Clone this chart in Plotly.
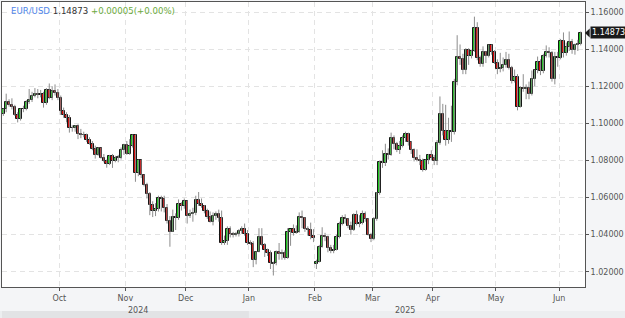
import pandas as pd
import plotly.graph_objects as go

# ---- data ----
dates = pd.bdate_range("2024-09-03", "2025-06-11")

opens = [
1.1050,1.1075,1.1115,1.1100,1.1090,1.1045,1.1025,1.1075,1.1080,1.1115,
1.1125,1.1150,1.1160,1.1155,1.1160,1.1110,1.1180,1.1135,1.1175,1.1165,
1.1135,1.1065,1.1045,1.1030,1.0975,1.0975,1.0985,1.0940,1.0935,1.0935,
1.0910,1.0890,1.0860,1.0830,1.0865,1.0815,1.0795,1.0780,1.0825,1.0795,
1.0815,1.0815,1.0855,1.0885,1.0835,1.0880,1.0935,1.0735,1.0800,1.0720,
1.0670,1.0620,1.0560,1.0530,1.0540,1.0600,1.0590,1.0545,1.0475,1.0415,
1.0495,1.0490,1.0565,1.0555,1.0580,1.0500,1.0510,1.0515,1.0585,1.0565,
1.0555,1.0530,1.0495,1.0470,1.0500,1.0510,1.0490,1.0355,1.0365,1.0430,
1.0405,1.0400,1.0405,1.0420,1.0430,1.0405,1.0355,1.0350,1.0265,1.0305,
1.0390,1.0345,1.0320,1.0300,1.0240,1.0250,1.0305,1.0295,1.0300,1.0275,
1.0415,1.0430,1.0410,1.0415,1.0495,1.0490,1.0430,1.0425,1.0395,1.0240,
1.0255,1.0335,1.0395,1.0385,1.0330,1.0310,1.0320,1.0390,1.0460,1.0490,
1.0485,1.0445,1.0425,1.0505,1.0460,1.0465,1.0510,1.0485,1.0400,1.0375,
1.0485,1.0625,1.0790,1.0785,1.0835,1.0830,1.0920,1.0890,1.0855,1.0880,
1.0920,1.0945,1.0900,1.0855,1.0815,1.0800,1.0795,1.0750,1.0800,1.0830,
1.0815,1.0795,1.0895,1.1050,1.0960,1.0910,1.0960,1.0955,1.1225,1.1355,
1.1345,1.1285,1.1395,1.1365,1.1390,1.1515,1.1350,1.1320,1.1385,1.1365,
1.1420,1.1385,1.1325,1.1295,1.1300,1.1315,1.1340,1.1300,1.1230,1.1250,
1.1090,1.1190,1.1185,1.1190,1.1160,1.1240,1.1285,1.1330,1.1280,1.1365,
1.1385,1.1380,1.1240,1.1360,1.1350,1.1445,1.1380,1.1410,1.1440,1.1395,
1.1420,1.1425]

highs = [
1.1080,1.1160,1.1130,1.1135,1.1100,1.1060,1.1080,1.1095,1.1125,1.1185,
1.1170,1.1190,1.1185,1.1180,1.1170,1.1190,1.1215,1.1200,1.1210,1.1185,
1.1150,1.1085,1.1060,1.1045,1.0990,1.0990,1.0995,1.0970,1.0955,1.0945,
1.0925,1.0905,1.0880,1.0870,1.0870,1.0835,1.0805,1.0830,1.0835,1.0825,
1.0830,1.0870,1.0890,1.0905,1.0915,1.0940,1.0940,1.0805,1.0805,1.0725,
1.0680,1.0630,1.0580,1.0570,1.0610,1.0610,1.0610,1.0565,1.0500,1.0535,
1.0515,1.0590,1.0575,1.0595,1.0585,1.0535,1.0545,1.0610,1.0630,1.0595,
1.0560,1.0540,1.0525,1.0520,1.0525,1.0535,1.0530,1.0395,1.0445,1.0445,
1.0415,1.0415,1.0430,1.0445,1.0460,1.0425,1.0370,1.0365,1.0310,1.0435,
1.0435,1.0355,1.0325,1.0315,1.0255,1.0315,1.0355,1.0320,1.0315,1.0435,
1.0430,1.0455,1.0450,1.0520,1.0530,1.0495,1.0445,1.0465,1.0430,1.0265,
1.0345,1.0440,1.0410,1.0395,1.0345,1.0345,1.0400,1.0470,1.0505,1.0510,
1.0490,1.0470,1.0515,1.0530,1.0505,1.0530,1.0525,1.0490,1.0410,1.0495,
1.0630,1.0800,1.0855,1.0890,1.0865,1.0950,1.0935,1.0900,1.0905,1.0935,
1.0955,1.0950,1.0905,1.0865,1.0860,1.0830,1.0810,1.0805,1.0835,1.0855,
1.0830,1.0910,1.1145,1.1105,1.1100,1.1030,1.1095,1.1240,1.1475,1.1425,
1.1375,1.1405,1.1405,1.1395,1.1575,1.1545,1.1365,1.1415,1.1390,1.1425,
1.1425,1.1395,1.1345,1.1380,1.1355,1.1385,1.1375,1.1310,1.1290,1.1265,
1.1200,1.1265,1.1210,1.1225,1.1285,1.1290,1.1360,1.1345,1.1375,1.1420,
1.1410,1.1390,1.1385,1.1385,1.1455,1.1490,1.1435,1.1495,1.1455,1.1430,
1.1450,1.1495]

lows = [
1.1040,1.1060,1.1090,1.1075,1.1040,1.1005,1.1015,1.1060,1.1070,1.1105,
1.1115,1.1140,1.1135,1.1140,1.1085,1.1100,1.1130,1.1125,1.1150,1.1125,
1.1045,1.1030,1.1005,1.0950,1.0955,1.0955,1.0915,1.0920,1.0925,1.0900,
1.0885,1.0855,1.0810,1.0825,1.0810,1.0790,1.0761,1.0775,1.0760,1.0790,
1.0790,1.0805,1.0830,1.0830,1.0830,1.0870,1.0685,1.0715,1.0705,1.0660,
1.0595,1.0505,1.0495,1.0500,1.0525,1.0525,1.0520,1.0460,1.0335,1.0415,
1.0425,1.0480,1.0530,1.0540,1.0460,1.0490,1.0470,1.0505,1.0555,1.0545,
1.0515,1.0485,1.0465,1.0450,1.0480,1.0470,1.0345,1.0345,1.0345,1.0385,
1.0385,1.0390,1.0390,1.0405,1.0395,1.0345,1.0345,1.0225,1.0240,1.0305,
1.0340,1.0280,1.0285,1.0215,1.0180,1.0235,1.0265,1.0265,1.0265,1.0270,
1.0340,1.0395,1.0405,1.0410,1.0435,1.0415,1.0395,1.0375,1.0360,1.0215,
1.0250,1.0330,1.0365,1.0305,1.0300,1.0300,1.0315,1.0380,1.0450,1.0460,
1.0435,1.0400,1.0420,1.0450,1.0440,1.0455,1.0470,1.0395,1.0360,1.0370,
1.0475,1.0615,1.0760,1.0770,1.0805,1.0825,1.0860,1.0845,1.0835,1.0870,
1.0900,1.0880,1.0835,1.0795,1.0795,1.0775,1.0740,1.0745,1.0780,1.0800,
1.0775,1.0775,1.0885,1.0935,1.0880,1.0890,1.0900,1.0940,1.1205,1.1315,
1.1265,1.1265,1.1315,1.1350,1.1385,1.1340,1.1305,1.1305,1.1325,1.1355,
1.1370,1.1320,1.1265,1.1275,1.1280,1.1300,1.1290,1.1215,1.1220,1.1070,
1.1085,1.1170,1.1130,1.1130,1.1150,1.1200,1.1270,1.1260,1.1270,1.1355,
1.1355,1.1225,1.1210,1.1305,1.1345,1.1355,1.1365,1.1390,1.1375,1.1370,
1.1390,1.1420]

closes = [
1.1075,1.1115,1.1100,1.1090,1.1045,1.1025,1.1075,1.1080,1.1115,1.1125,
1.1150,1.1160,1.1155,1.1160,1.1110,1.1180,1.1135,1.1175,1.1165,1.1135,
1.1065,1.1045,1.1030,1.0975,1.0975,1.0985,1.0940,1.0935,1.0935,1.0910,
1.0890,1.0860,1.0830,1.0865,1.0815,1.0795,1.0780,1.0825,1.0795,1.0815,
1.0815,1.0855,1.0885,1.0835,1.0880,1.0935,1.0735,1.0800,1.0720,1.0670,
1.0620,1.0560,1.0530,1.0540,1.0595,1.0590,1.0545,1.0475,1.0415,1.0495,
1.0490,1.0565,1.0555,1.0580,1.0500,1.0510,1.0515,1.0585,1.0565,1.0555,
1.0530,1.0495,1.0470,1.0500,1.0510,1.0490,1.0355,1.0365,1.0430,1.0405,
1.0400,1.0405,1.0420,1.0430,1.0405,1.0355,1.0350,1.0265,1.0305,1.0390,
1.0345,1.0320,1.0300,1.0245,1.0250,1.0305,1.0295,1.0300,1.0275,1.0415,
1.0430,1.0410,1.0415,1.0495,1.0490,1.0430,1.0425,1.0395,1.0380,1.0255,
1.0335,1.0395,1.0385,1.0330,1.0310,1.0320,1.0390,1.0460,1.0490,1.0485,
1.0445,1.0425,1.0505,1.0460,1.0465,1.0510,1.0485,1.0400,1.0375,1.0485,
1.0625,1.0790,1.0785,1.0835,1.0830,1.0920,1.0890,1.0855,1.0880,1.0920,
1.0945,1.0900,1.0855,1.0815,1.0800,1.0795,1.0750,1.0800,1.0830,1.0815,
1.0795,1.0895,1.1050,1.0960,1.0910,1.0960,1.0955,1.1225,1.1355,1.1345,
1.1285,1.1395,1.1365,1.1390,1.1515,1.1350,1.1320,1.1385,1.1365,1.1420,
1.1385,1.1325,1.1295,1.1300,1.1315,1.1340,1.1300,1.1230,1.1250,1.1090,
1.1190,1.1185,1.1190,1.1160,1.1240,1.1285,1.1330,1.1280,1.1365,1.1385,
1.1380,1.1240,1.1360,1.1350,1.1445,1.1380,1.1410,1.1440,1.1395,1.1420,
1.1425,1.14873]

symbol = "EUR/USD"
last_price = "1.14873"
change_text = "+0.00005(+0.00%)"
year_labels = ["2024", "2025"]

# ---- styling ----
FONT = "DejaVu Sans"
UP_FILL = "#1ec81e"
DOWN_FILL = "#d80000"
WICK = "#8c8c8c"
OUTLINE = "#151515"
AXIS = "#555555"
GRID = "#e3e3e3"
DAY_MS = 86400000

# each daily candle is centred at mid-day
xs = dates + pd.Timedelta(hours=12)

# wick segments built from the data
wick_x, wick_y = [], []
for x, h, l in zip(xs, highs, lows):
    wick_x += [x, x, None]
    wick_y += [l, h, None]

body_lo = [min(o, c) for o, c in zip(opens, closes)]
body_h = [max(abs(c - o), 0.00012) for o, c in zip(opens, closes)]
body_col = [UP_FILL if c >= o else DOWN_FILL for o, c in zip(opens, closes)]

fig = go.Figure()
fig.add_trace(go.Scatter(
    x=wick_x, y=wick_y, mode="lines",
    line=dict(color=WICK, width=1), hoverinfo="skip", showlegend=False,
))
fig.add_trace(go.Bar(
    x=xs, y=body_h, base=body_lo, width=0.86 * DAY_MS,
    marker=dict(color=body_col, line=dict(color=OUTLINE, width=1)),
    hoverinfo="skip", showlegend=False,
))

fig.update_layout(
    width=625, height=318,
    margin=dict(l=1, r=39, t=1, b=31),
    paper_bgcolor="#f4f5f7",
    plot_bgcolor="#ffffff",
    font=dict(family=FONT, size=8, color=AXIS),
    showlegend=False,
    hovermode=False,
    dragmode=False,
    bargap=0,
)

fig.update_xaxes(
    type="date",
    rangebreaks=[dict(bounds=["sat", "mon"])],
    range=["2024-09-03 01:00", "2025-06-13 00:00"],
    tickformat="%b", dtick="M1", tick0="2024-01-01",
    ticks="outside", ticklen=3, tickcolor=AXIS,
    tickfont=dict(family=FONT, size=8, color="#555555"),
    showgrid=True, gridcolor=GRID, griddash="5px,4px", gridwidth=1,
    showline=True, linecolor=AXIS, linewidth=1, mirror=True,
    zeroline=False, fixedrange=True,
)
fig.update_yaxes(
    side="right",
    range=[1.0118, 1.1654],
    dtick=0.02, tick0=1.0, tickformat=".5f",
    ticks="outside", ticklen=3, tickcolor=AXIS,
    tickfont=dict(family=FONT, size=8, color="#555555"),
    showgrid=True, gridcolor=GRID, griddash="5px,4px", gridwidth=1,
    showline=True, linecolor=AXIS, linewidth=1, mirror=True,
    zeroline=False, fixedrange=True,
)

# year band under the month labels
fig.add_shape(type="rect", xref="paper", yref="paper",
              x0=-0.01, x1=1.1, y0=-0.084, y1=-0.12,
              fillcolor="#eceef0", line_width=0, layer="above")
fig.add_shape(type="rect", xref="x", yref="paper",
              x0="2024-08-01", x1="2025-01-01", y0=-0.084, y1=-0.12,
              fillcolor="#e2e3e5", line_width=0, layer="above")
fig.add_annotation(text=year_labels[0], xref="paper", yref="paper",
                   x=0.212, y=-0.107, showarrow=False,
                   font=dict(family=FONT, size=8, color="#555555"))
fig.add_annotation(text=year_labels[1], xref="paper", yref="paper",
                   x=0.711, y=-0.107, showarrow=False,
                   font=dict(family=FONT, size=8, color="#555555"))

# header text
fig.add_annotation(
    text=(f"<span style='color:#4f86ea'>{symbol}</span> "
          f"<span style='color:#333333'>{last_price}</span> "
          f"<span style='color:#6cab3c'>{change_text}</span>"),
    xref="paper", yref="paper", x=0.012, y=0.97,
    xanchor="left", yanchor="middle", showarrow=False,
    font=dict(family=FONT, size=8.6),
)

# last price marker
last = closes[-1]
fig.add_shape(type="path", xref="paper", yref="y",
              path=f"M 1.0,{last} L 1.008,{last + 0.0024} L 1.008,{last - 0.0024} Z",
              fillcolor="#1a1a1a", line_width=0, layer="above")
fig.add_annotation(text=last_price, xref="paper", yref="y",
                   x=1.008, y=last, xanchor="left", yanchor="middle",
                   showarrow=False, bgcolor="#1a1a1a", borderpad=1,
                   font=dict(family=FONT, size=8, color="#ffffff"))

fig.write_html("out.html")
